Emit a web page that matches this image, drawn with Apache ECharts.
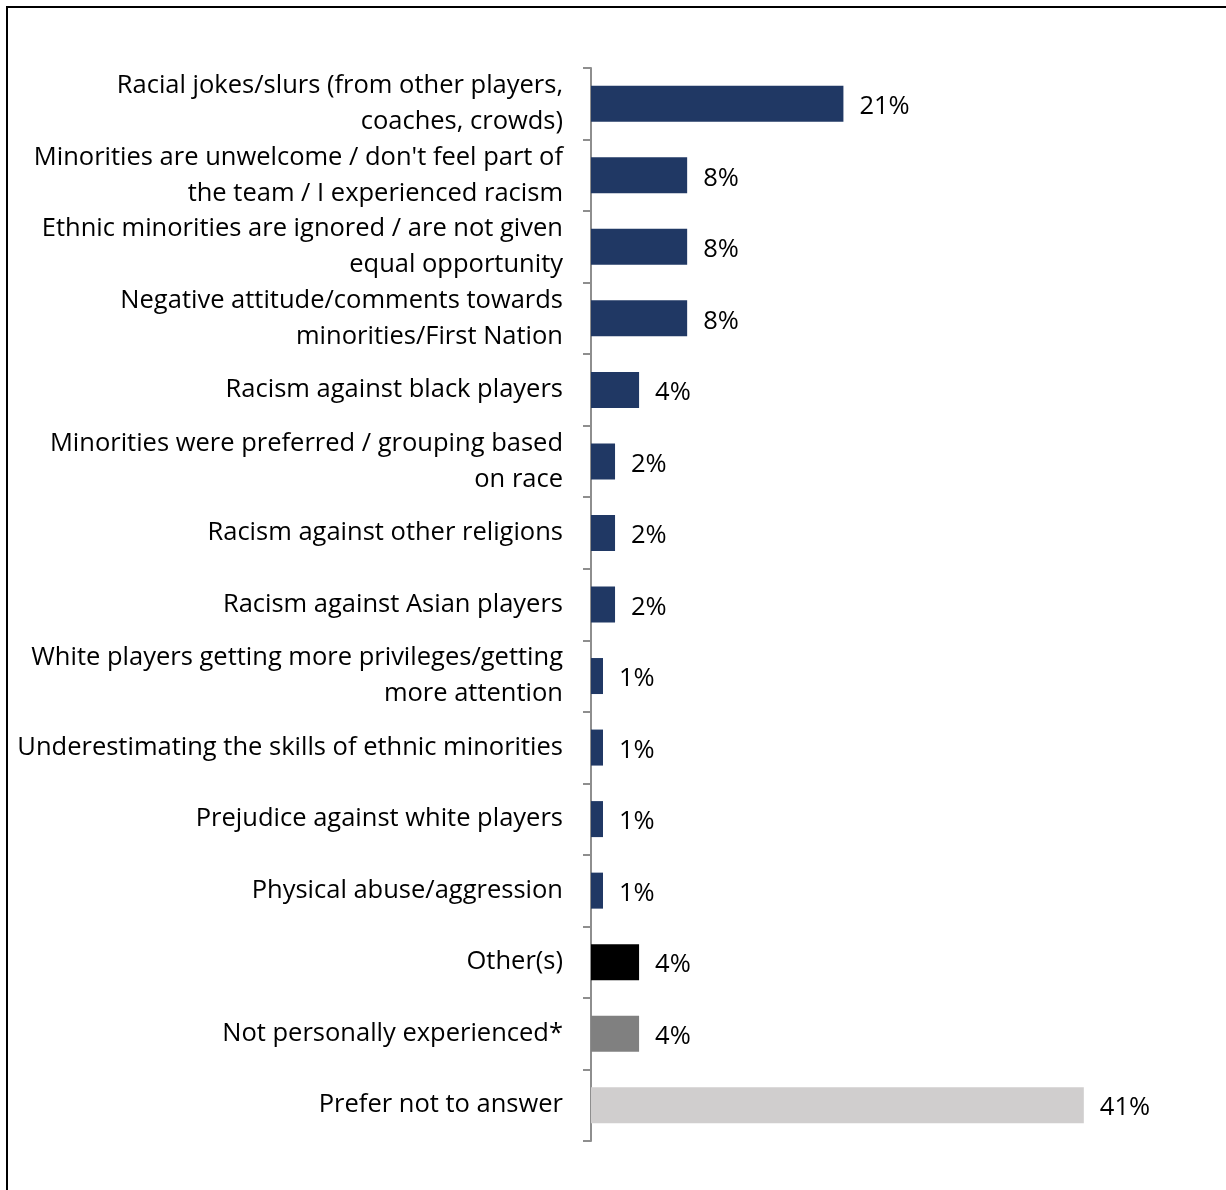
<!DOCTYPE html>
<html>
<head>
<meta charset="utf-8">
<script src="https://cdn.jsdelivr.net/npm/echarts@6/dist/echarts.min.js"></script>
<style>
  html, body { margin: 0; padding: 0; background: #ffffff; }
  #chart { width: 1226px; height: 1190px; }
</style>
</head>
<body>
<div id="chart"></div>
<script>
// Reported forms of racism experienced (share of respondents)
const categories = [
  "Racial jokes/slurs (from other players,\ncoaches, crowds)",
  "Minorities are unwelcome / don't feel part of\nthe team / I experienced racism",
  "Ethnic minorities are ignored / are not given\nequal opportunity",
  "Negative attitude/comments towards\nminorities/First Nation",
  "Racism against black players",
  "Minorities were preferred / grouping based\non race",
  "Racism against other religions",
  "Racism against Asian players",
  "White players getting more privileges/getting\nmore attention",
  "Underestimating the skills of ethnic minorities",
  "Prejudice against white players",
  "Physical abuse/aggression",
  "Other(s)",
  "Not personally experienced*",
  "Prefer not to answer"
];
const values = [21, 8, 8, 8, 4, 2, 2, 2, 1, 1, 1, 1, 4, 4, 41];
const barColors = [
  "#203864", "#203864", "#203864", "#203864", "#203864", "#203864",
  "#203864", "#203864", "#203864", "#203864", "#203864", "#203864",
  "#000000", "#808080", "#d0cece"
];

const FONT = "'Open Sans', sans-serif";
const FONT_SIZE = 25.5;

const chart = echarts.init(document.getElementById('chart'), null, { renderer: 'canvas' });

chart.setOption({
  backgroundColor: '#ffffff',
  animation: false,
  graphic: [{
    type: 'rect',
    shape: { x: 7, y: 7, width: 1400, height: 1400 },
    style: { fill: 'none', stroke: '#000000', lineWidth: 2 },
    silent: true
  }],
  grid: { left: 591, right: 34, top: 68, bottom: 49, containLabel: false },
  xAxis: {
    type: 'value',
    min: 0,
    max: 50,
    show: false
  },
  yAxis: {
    type: 'category',
    inverse: true,
    data: categories,
    axisLine: { show: true, lineStyle: { color: '#8e8e8e', width: 2 } },
    axisTick: { show: true, length: 8, interval: 0, lineStyle: { color: '#8e8e8e', width: 2 } },
    axisLabel: {
      interval: 0,
      hideOverlap: false,
      margin: 28,
      padding: [3, 0, 0, 0],
      color: '#000000',
      fontFamily: FONT,
      fontSize: FONT_SIZE,
      lineHeight: 36,
      align: 'right'
    },
    splitLine: { show: false }
  },
  series: [{
    type: 'bar',
    data: values.map((v, i) => ({ value: v, itemStyle: { color: barColors[i] } })),
    barWidth: 36,
    label: {
      show: true,
      position: 'right',
      distance: 16,
      offset: [0, 3],
      color: '#000000',
      fontFamily: FONT,
      fontSize: FONT_SIZE,
      formatter: p => p.value + '%'
    }
  }]
});
</script>
</body>
</html>
